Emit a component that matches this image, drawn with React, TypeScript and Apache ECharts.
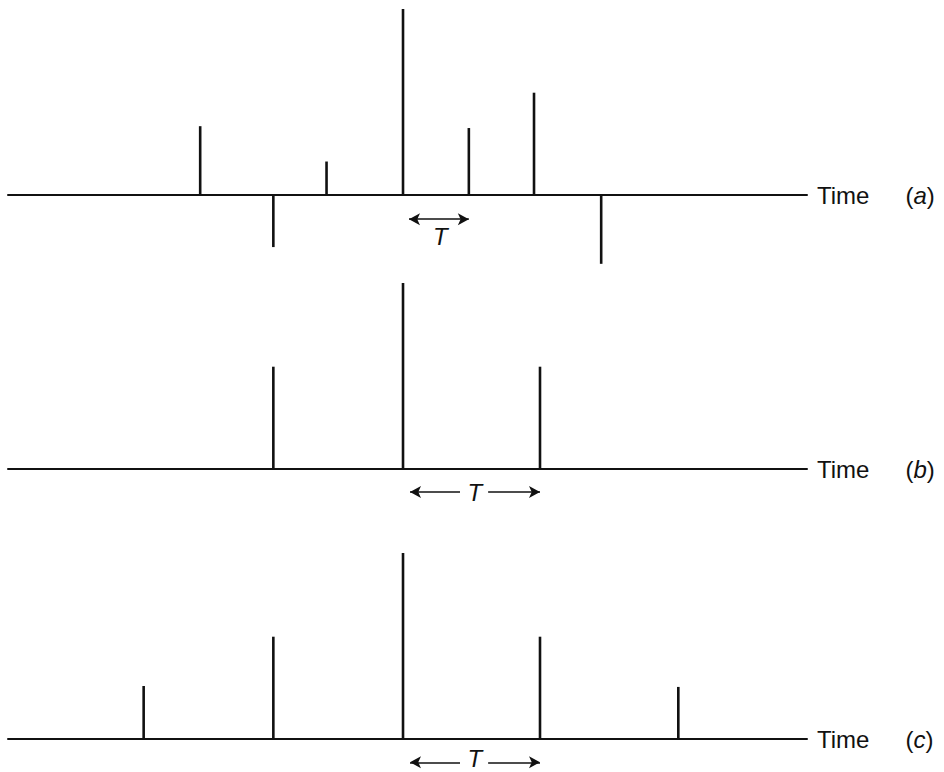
import React, { useEffect, useRef } from "react";
import * as echarts from "echarts";

// Impulse trains: time position (in units of the sample spacing) and amplitude
const timesA = [-3.05, -1.95, -1.15, 0, 0.99, 1.97, 2.98];
const ampsA = [0.37, -0.28, 0.18, 1.0, 0.36, 0.55, -0.37];

const timesB = [-1.95, 0, 2.06];
const ampsB = [0.55, 1.0, 0.55];

const timesC = [-3.9, -1.95, 0, 2.06, 4.14];
const ampsC = [0.285, 0.55, 1.0, 0.55, 0.28];

const panelLetters = ["a", "b", "c"];

// Spacing annotations ("T") for each panel
const arrowA = { from: 0.09, to: 0.99, y: -0.13, labelX: 0.56, labelY: -0.225 };
const arrowB = { leftTip: 0.105, leftEnd: 0.857, rightStart: 1.28, rightTip: 2.06, y: -0.124, labelX: 1.08, labelY: -0.124 };
const arrowC = { leftTip: 0.105, leftEnd: 0.857, rightStart: 1.28, rightTip: 2.06, y: -0.125, labelX: 1.08, labelY: -0.104 };

const X_MIN = -5.94;
const X_MAX = 6.075;
const PX_PER_UNIT = 186;
const FONT = "'Liberation Sans', Arial, Helvetica, sans-serif";
const INK = "#111";

const panels = [
  { times: timesA, amps: ampsA, baseline: 195, yMin: -0.45, yMax: 1 },
  { times: timesB, amps: ampsB, baseline: 469, yMin: -0.2, yMax: 1 },
  { times: timesC, amps: ampsC, baseline: 739, yMin: -0.17, yMax: 1 },
];

function zip(xs: number[], ys: number[]) {
  return xs.map((x, i) => [x, ys[i]]);
}

const arrowLineStyle = { color: INK, width: 1.6, type: "solid" as const };

function tLabel(x: number, y: number) {
  return {
    coord: [x, y],
    symbol: "circle",
    symbolSize: 1,
    itemStyle: { color: "rgba(0,0,0,0)" },
    label: {
      show: true,
      position: "inside",
      formatter: "T",
      color: INK,
      fontFamily: FONT,
      fontStyle: "italic",
      fontSize: 24,
      lineHeight: 20,
    },
  };
}

export default function App() {
  const ref = useRef<HTMLDivElement>(null);

  useEffect(() => {
    if (!ref.current) return;
    const chart = echarts.init(ref.current, null, { renderer: "svg" });

    const grids = panels.map((p) => ({
      left: 8,
      width: 799,
      top: p.baseline - PX_PER_UNIT * p.yMax,
      height: PX_PER_UNIT * (p.yMax - p.yMin),
      containLabel: false,
    }));

    const xAxes = panels.map((_, i) => ({
      type: "value" as const,
      gridIndex: i,
      min: X_MIN,
      max: X_MAX,
      axisLine: { show: true, onZero: true, lineStyle: { color: INK, width: 2 } },
      axisTick: { show: false },
      axisLabel: { show: false },
      splitLine: { show: false },
      name: `{t|Time}{o|(}{i|${panelLetters[i]}}{c|)}`,
      nameLocation: "end" as const,
      nameGap: 10,
      nameTextStyle: {
        rich: {
          t: { fontFamily: FONT, fontSize: 24, color: INK },
          o: { fontFamily: FONT, fontSize: 24, color: INK, padding: [0, 0, 0, 36] },
          i: { fontFamily: FONT, fontSize: 24, color: INK, fontStyle: "italic" },
          c: { fontFamily: FONT, fontSize: 24, color: INK },
        },
      },
    }));

    const yAxes = panels.map((p, i) => ({
      type: "value" as const,
      gridIndex: i,
      min: p.yMin,
      max: p.yMax,
      show: false,
    }));

    const stemSeries = panels.map((p, i) => ({
      type: "custom" as const,
      xAxisIndex: i,
      yAxisIndex: i,
      clip: false,
      data: zip(p.times, p.amps),
      encode: { x: 0, y: 1 },
      renderItem: (_params: any, api: any) => {
        const x = api.value(0);
        const y = api.value(1);
        const p0 = api.coord([x, 0]);
        const p1 = api.coord([x, y]);
        return {
          type: "line",
          shape: { x1: p0[0], y1: p0[1], x2: p1[0], y2: p1[1] },
          style: { stroke: INK, lineWidth: 2.6 },
        };
      },
      markLine: undefined as any,
      markPoint: undefined as any,
    }));

    // Double-headed arrow for panel (a), label beneath
    stemSeries[0].markLine = {
      silent: true,
      symbol: ["arrow", "arrow"],
      symbolSize: [9, 11],
      lineStyle: arrowLineStyle,
      label: { show: false },
      data: [[{ coord: [arrowA.from, arrowA.y] }, { coord: [arrowA.to, arrowA.y] }]],
    };
    stemSeries[0].markPoint = { silent: true, data: [tLabel(arrowA.labelX, arrowA.labelY)] };

    // Split arrows with the label in between for panels (b) and (c)
    [arrowB, arrowC].forEach((a, k) => {
      const s = stemSeries[k + 1];
      s.markLine = {
        silent: true,
        symbol: ["none", "arrow"],
        symbolSize: [9, 11],
        lineStyle: arrowLineStyle,
        label: { show: false },
        data: [
          [{ coord: [a.leftEnd, a.y] }, { coord: [a.leftTip, a.y] }],
          [{ coord: [a.rightStart, a.y] }, { coord: [a.rightTip, a.y] }],
        ],
      };
      s.markPoint = { silent: true, data: [tLabel(a.labelX, a.labelY)] };
    });

    chart.setOption({
      animation: false,
      backgroundColor: "#fff",
      grid: grids,
      xAxis: xAxes,
      yAxis: yAxes,
      series: stemSeries,
    });

    return () => chart.dispose();
  }, []);

  return (
    <div
      ref={ref}
      style={{ position: "fixed", left: 0, top: 0, width: 944, height: 772, background: "#fff" }}
    />
  );
}
